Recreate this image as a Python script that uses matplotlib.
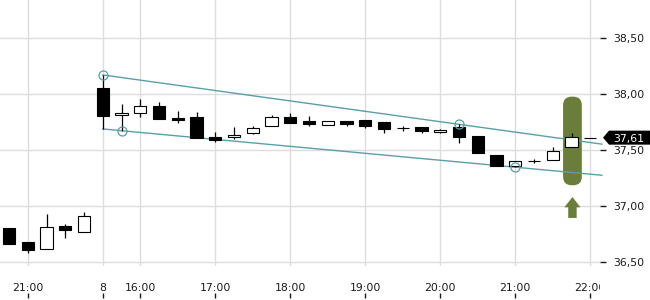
import numpy as np
import matplotlib
matplotlib.use("Agg")
import matplotlib.pyplot as plt
from matplotlib.patches import FancyBboxPatch, Polygon
from matplotlib.transforms import Bbox, TransformedBbox, blended_transform_factory

# ---------------- data (15-minute candles) ----------------
opens  = [36.801, 36.679, 36.613, 36.821, 36.771,
          38.054, 37.810, 37.828, 37.893, 37.786, 37.795, 37.616, 37.613, 37.655,
          37.712, 37.792, 37.759, 37.720, 37.759, 37.768, 37.747, 37.697, 37.705,
          37.658, 37.705, 37.625, 37.453, 37.355, 37.404, 37.408, 37.524, 37.610]
highs  = [36.801, 36.679, 36.929, 36.839, 36.946,
          38.170, 37.911, 37.955, 37.929, 37.848, 37.839, 37.658, 37.705, 37.714,
          37.815, 37.830, 37.804, 37.759, 37.759, 37.768, 37.747, 37.714, 37.705,
          37.688, 37.729, 37.625, 37.453, 37.402, 37.420, 37.524, 37.649, 37.610]
lows   = [36.663, 36.578, 36.613, 36.717, 36.771,
          37.685, 37.672, 37.797, 37.780, 37.738, 37.607, 37.574, 37.601, 37.646,
          37.712, 37.744, 37.717, 37.720, 37.714, 37.699, 37.655, 37.670, 37.654,
          37.652, 37.560, 37.470, 37.357, 37.346, 37.387, 37.408, 37.524, 37.610]
closes = [36.663, 36.610, 36.810, 36.788, 36.911,
          37.806, 37.830, 37.893, 37.780, 37.768, 37.607, 37.589, 37.634, 37.694,
          37.792, 37.744, 37.735, 37.759, 37.735, 37.717, 37.690, 37.692, 37.667,
          37.679, 37.619, 37.470, 37.357, 37.402, 37.400, 37.488, 37.613, 37.610]

xtick_idx = [1, 5, 7, 11, 15, 19, 23, 27, 31]
xtick_labels = ["21:00", "8", "16:00", "17:00", "18:00", "19:00", "20:00", "21:00", "22:00"]
ytick_vals = [36.5, 37.0, 37.5, 38.0, 38.5]
ytick_labels = ["36,50", "37,00", "37,50", "38,00", "38,50"]

# trend channel anchors (index, price)
upper_anchor = [(5, 38.170), (24, 37.729)]
lower_anchor = [(6, 37.672), (27, 37.346)]
channel_start = 5

last_price = 37.61
last_label = "37,61"

signal_idx = 30
signal_box = (37.185, 37.976)
signal_arrow = (36.893, 37.080)

# ---------------- styling ----------------
GRID = "#dcdcdc"
TEAL = "#5a9fa5"
OLIVE = "#6a7d3b"
TXT = "#1a1a1a"
FS = 7.8

plt.rcParams['font.family'] = ['DejaVu Sans']

fig = plt.figure(figsize=(6.5, 3.0), dpi=100)
ax = fig.add_axes([0, 34 / 300, 600 / 650, 266 / 300])

n = len(opens)
idx = np.arange(n)
ax.set_xlim(-0.48, 31.52)
ax.set_ylim(36.464, 38.839)

for s in ax.spines.values():
    s.set_visible(False)

ax.set_axisbelow(True)
ax.grid(True, color=GRID, linewidth=1.0)

# highlight box
w_box = 1.0
aspect = (1 / 112) / (1 / 18.75)
hb = FancyBboxPatch((signal_idx + 0.05 - w_box / 2, signal_box[0]), w_box, signal_box[1] - signal_box[0],
                    boxstyle="round,pad=0,rounding_size=0.46", mutation_aspect=aspect,
                    facecolor=OLIVE, edgecolor="none", zorder=1.5)
ax.add_patch(hb)

# arrow
ax_c = signal_idx + 0.05
head_w, shaft_w = 0.86, 0.45
y0, y1 = signal_arrow
head_h = 0.092
arrow_pts = [(ax_c - shaft_w / 2, y0), (ax_c + shaft_w / 2, y0), (ax_c + shaft_w / 2, y1 - head_h),
             (ax_c + head_w / 2, y1 - head_h), (ax_c, y1), (ax_c - head_w / 2, y1 - head_h),
             (ax_c - shaft_w / 2, y1 - head_h)]
ax.add_patch(Polygon(arrow_pts, closed=True, facecolor=OLIVE, edgecolor="none", zorder=1.5))

# trend channel lines
xr = ax.get_xlim()[1] + 0.1
for anc in (upper_anchor, lower_anchor):
    (xa, ya), (xb, yb) = anc
    slope = (yb - ya) / (xb - xa)
    xs = np.array([channel_start, xr])
    ys = ya + slope * (xs - xa)
    ax.plot(xs, ys, color=TEAL, linewidth=1.0, zorder=2, clip_on=False)
    ax.plot([xa, xb], [ya, yb], linestyle="none", marker="o", markersize=6.5,
            markerfacecolor="none", markeredgecolor=TEAL, markeredgewidth=0.9, zorder=4)

# candles
o = np.array(opens); c = np.array(closes); h = np.array(highs); l = np.array(lows)
up = c >= o
ax.vlines(idx, l, h, color="black", linewidth=0.9, zorder=3)
bottoms = np.minimum(o, c)
heights = np.abs(c - o)
ax.bar(idx, heights, bottom=bottoms, width=0.66,
       color=np.where(up, "white", "black"), edgecolor="black", linewidth=0.8, zorder=3)

# axes ticks
ax.set_xticks(xtick_idx)
ax.set_xticklabels(xtick_labels, fontsize=FS, color=TXT)
ax.tick_params(axis='x', length=0, pad=12.3)
ax.yaxis.tick_right()
ax.set_yticks(ytick_vals)
ax.set_yticklabels(ytick_labels, fontsize=FS, color=TXT)
ax.tick_params(axis='y', direction='out', length=4, width=1, color=TXT, pad=5.5)

clipbox = TransformedBbox(Bbox([[0, 0], [600 / 650, 1]]), fig.transFigure)
for lbl in ax.get_xticklabels():
    lbl.set_clip_box(clipbox)
    lbl.set_clip_on(True)

sec = ax.secondary_xaxis(-31.5 / 266)
sec.set_xticks(xtick_idx)
sec.tick_params(axis='x', direction='in', length=3.5, width=1, color=TXT, labelbottom=False)
sec.spines['bottom'].set_visible(False)

# last price tag
tr = blended_transform_factory(fig.transFigure, ax.transData)
hh = 0.0625
tag = [(603 / 650, last_price), (609 / 650, last_price + hh), (1.0, last_price + hh),
       (1.0, last_price - hh), (609 / 650, last_price - hh)]
fig.patches.append(Polygon(tag, closed=True, transform=tr, facecolor="black", edgecolor="none", figure=fig))
fig.text(613 / 650, last_price, last_label, transform=tr, color="white", fontsize=FS,
         ha="left", va="center_baseline")

fig.savefig("out.png", dpi=100)
